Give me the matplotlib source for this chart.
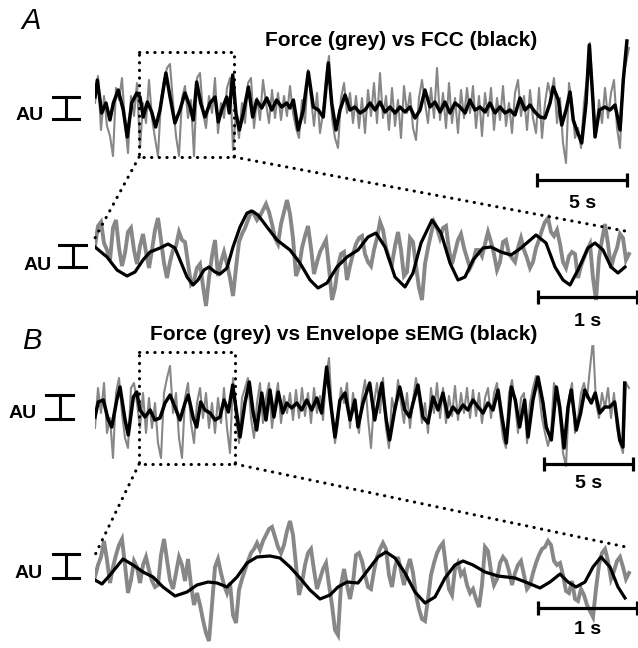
import numpy as np
import matplotlib.pyplot as plt
from matplotlib.patches import ConnectionPatch

plt.rcParams['font.family'] = ['Liberation Sans', 'DejaVu Sans']

W, H = 638, 648
GREY = '#878787'

# sampling step of the force traces (s)
dt_slow = 1 / 6
dt_fast = 0.03

# ---- panel A, 30 s record: force (grey) and FCC (black), AU
force_a = [5, 32, -22, 12, -18, -28, -48, 20, 8, 30, -15, -45, 12, -8, 25, -40, 5, -15, 28, -10,
           -30, -48, 8, 28, 40, 44, 5, -28, -48, 10, 22, -10, 8, -48, 30, 35, -5, -20, 12, -5,
           30, -25, 5, -10, 20, 30, -42, -5, -30, 5, -15, 25, 30, -20, 10, -12, 28, 5, -15, 18,
           -10, 15, -12, 12, -8, 22, -5, -20, -30, 8, -15, 38, 10, -18, 15, -25, -5, 30, 52, -10,
           -30, -40, 10, 25, -5, 15, -15, 12, -20, 10, -25, 18, -8, 25, -15, 35, -10, 12, -22, 20,
           -18, 8, -30, 22, -5, 15, -20, -32, 10, 28, 5, -15, 20, -10, 40, -12, 15, -20, 25, -15,
           10, -25, 18, -10, 20, -5, 22, -20, 12, -28, 15, -8, 20, -22, 10, -12, 22, -18, 5, -25,
           15, 28, -8, 12, -22, 18, -10, -25, 20, -30, 5, 25, 12, 30, -15, 10, -35, -55, 25, 5,
           -30, -20, -40, 5, 30, 65, 10, -25, 8, -15, 20, -10, 15, 28, -20, -40, 30, 45, 60]
fcc_t = [0.00, 0.13, 0.37, 0.61, 0.83, 1.02, 1.29, 1.57, 1.79, 2.04, 2.32, 2.50, 2.68, 2.91, 3.15,
         3.37, 3.61, 3.94, 4.17, 4.44, 4.72, 5.00, 5.28, 5.46, 5.65, 5.87, 6.11, 6.39, 6.67, 6.85,
         7.04, 7.32, 7.46, 7.65, 7.83, 8.02, 8.24, 8.52, 8.76, 8.98, 9.26, 9.54, 9.82, 10.09, 10.37,
         10.65, 10.83, 11.02, 11.29, 11.57, 11.85, 12.13, 12.41, 12.68, 12.96, 13.15, 13.39, 13.61,
         13.89, 14.17, 14.44, 14.72, 15.00, 15.28, 15.56, 15.83, 16.11, 16.39, 16.67, 16.94, 17.22,
         17.50, 17.78, 18.06, 18.33, 18.61, 18.89, 19.17, 19.44, 19.72, 20.00, 20.28, 20.56, 20.83,
         21.11, 21.39, 21.67, 21.94, 22.22, 22.50, 22.78, 23.06, 23.33, 23.61, 23.89, 24.17, 24.44,
         24.72, 25.00, 25.28, 25.46, 25.74, 25.93, 26.17, 26.39, 26.57, 26.76, 27.04, 27.28, 27.46,
         27.65, 27.78, 28.02, 28.33, 28.61, 28.89, 29.17, 29.35, 29.55]
fcc_v = [11, 28, -5, 5, -12, 5, 18, -2, -29, 5, 15, 11, -9, 6, -4,
         -19, -2, 35, 11, -15, -2, 15, 1, -12, 26, 5, -9, 5, 11, -14,
         -2, 11, -5, 33, -5, -22, -5, 21, -9, 8, 0, 10, -2, 8, 1,
         5, 0, 8, -22, -2, 36, 1, -2, -9, 45, 5, -22, -2,
         13, -2, 1, -5, -2, 5, -2, 6, -4, 1, -5, 1, -4,
         1, -10, -2, 18, 1, 6, -4, 6, -5, 5, 1, -5, 8,
         -2, 1, -4, 5, -5, 1, -5, -2, -7, 10, -2, 3, -4,
         -9, -10, 5, 21, 8, -17, -2, 16, -12, -22, -35, 5, 63,
         11, -29, -2, 1, -2, 3, -22, 28, 67]

# ---- panel A, expanded 5 s
force_a_zoom = [12, 32, 36, 15, 8, -2, 30, 38, 10, -8, 5, 26, 30, 8, -6, 12, 24, 6, -10, 8,
                28, 40, 18, -5, -20, -4, 8, 12, 26, 18, 16, -5, -26, -22, -10, -6, -28, -48, -20, 2,
                18, -18, -4, 6, -6, -20, -38, -10, 16, 24, 30, 38, 46, 44, 38, 42, 48, 54, 46, 34,
                20, 14, 34, 46, 58, 44, 20, -18, -10, 10, 22, 32, 10, -16, -4, 6, 12, 18, -10, -42,
                -30, -8, 4, 6, -22, -8, 4, 14, 20, 22, 4, -4, -8, 8, 20, 36, 28, 10, 0, -6,
                12, 26, 8, -18, -14, 20, 16, -8, -30, -42, -6, 10, 24, 36, 30, 20, 30, 32, 8, -6,
                6, 18, 24, 10, 0, -10, -4, 8, 8, 2, 14, 26, 16, 4, -12, -4, 16, 18, 4, 0,
                -4, 10, 20, 8, 0, -10, -4, 10, 18, 28, 36, 40, 26, 22, 28, 14, -4, -10, 2, 6,
                4, -20, -8, 0, 8, 14, -20, -42, 0, 18, 34, 14, -10, 2, 10, 24, 20, -2, 4]
fcc_zoom_t = [0.00, 0.12, 0.22, 0.32, 0.40, 0.48, 0.55, 0.65, 0.73, 0.80, 0.85, 0.92, 0.98, 1.03,
              1.09, 1.14, 1.20, 1.25, 1.32, 1.38, 1.45, 1.52, 1.57, 1.63, 1.72, 1.82, 1.95, 2.05,
              2.15, 2.23, 2.32, 2.42, 2.52, 2.63, 2.73, 2.81, 2.90, 3.00, 3.10, 3.18, 3.26, 3.37,
              3.46, 3.55, 3.63, 3.70, 3.78, 3.88, 3.96, 4.06, 4.16, 4.26, 4.41, 4.51, 4.60, 4.68,
              4.75, 4.83, 4.93, 5.00, 5.08, 5.16, 5.23, 5.30]
fcc_zoom_v = [11, 1, -12, -18, -14, -2, 6, 10, 14, 10, -2, -19, -27, -22,
              -12, -9, -14, -16, -10, 11, 31, 45, 47, 43, 31, 18, 8, -5,
              -22, -30, -25, -9, 1, 8, 21, 25, 11, -19, -29, -15, 15, 38,
              25, -5, -22, -19, -2, 10, 11, 6, 3, 10, 23, 15, -9, -22,
              -27, -12, 10, 15, 8, -9, -15, -9]

# ---- panel B, 30 s record: force (grey) and sEMG envelope (black)
force_b = [-20, 20, -5, 25, -25, -10, -50, 15, 30, -5, -30, -40, 20, 25, 5, -20, 15, -25, 10, -20,
           5, -35, -50, 15, 30, 42, -5, 15, -30, -50, 10, 25, -15, -35, 5, 20, -10, 15, -20, 5,
           -25, 10, -15, 20, -20, -45, 30, -10, -35, 10, 20, 30, -10, -30, 5, 25, -15, 10, 25, -20,
           5, 25, -15, 12, -5, 15, -12, 18, -10, 20, -8, 15, -15, 20, -5, 12, -12, 30, 50, -5,
           -35, -15, 20, 5, 25, -20, 15, -5, -25, 10, 28, -10, -40, 5, 25, -5, 30, -20, -40, 10,
           -5, 28, 5, -15, 15, -20, 8, 30, 10, -15, 5, -25, 20, -5, 25, -10, 20, -15, 12, -8,
           22, -12, 15, -5, 20, -10, 18, -8, 15, -15, 10, 20, -10, 15, 25, -5, -30, -40, 15, 28,
           5, -25, 10, 15, -35, 5, 20, 32, 15, -10, -25, -38, -25, 25, 15, -10, -45, -58, 10, 25,
           -25, -10, 15, 25, 10, 40, 68, 5, -10, 15, 0, 20, -10, 15, -20, -35, -45, 25, 20]
emg_t = [0.00, 0.18, 0.46, 0.74, 0.93, 1.21, 1.39, 1.67, 1.85, 2.13, 2.32, 2.50, 2.78, 3.06, 3.33,
         3.61, 3.89, 4.17, 4.44, 4.72, 5.00, 5.18, 5.46, 5.65, 5.87, 6.11, 6.39, 6.67, 6.94, 7.17,
         7.41, 7.65, 7.87, 8.06, 8.33, 8.57, 8.79, 8.98, 9.26, 9.50, 9.72, 9.94, 10.18, 10.43, 10.65,
         10.93, 11.21, 11.48, 11.76, 12.04, 12.32, 12.59, 12.87, 13.09, 13.33, 13.61, 13.89, 14.17,
         14.44, 14.61, 14.89, 15.26, 15.54, 15.72, 15.94, 16.18, 16.37, 16.65, 16.93, 17.21, 17.48,
         17.67, 17.94, 18.22, 18.50, 18.78, 19.06, 19.33, 19.61, 19.89, 20.17, 20.44, 20.72, 21.00,
         21.28, 21.56, 21.83, 22.11, 22.39, 22.61, 22.85, 23.13, 23.35, 23.59, 23.87, 24.06, 24.33,
         24.61, 24.89, 25.07, 25.35, 25.63, 25.82, 26.06, 26.28, 26.46, 26.74, 26.98, 27.21, 27.39,
         27.57, 27.79, 28.04, 28.32, 28.59, 28.87, 29.15, 29.33, 29.43]
emg_v = [-9, 6, 8, -12, -19, 8, 21, -12, -27, 11, 16, -2, -9, -2, -12,
         -10, 5, 13, 1, -12, 5, 13, -10, -19, 6, -2, -5, -12, -9, 8,
         -4, 23, -5, -29, 5, 26, -5, -22, 15, -12, 18, -9, 16, -5, 5,
         0, 5, -2, 8, -2, 10, -5, 41, 5, -29, 8, 15, -12,
         8, -19, 5, 25, -12, 5, 25, -12, -32, -2, 21, -2, -9,
         5, 23, -9, -15, 11, -2, 15, -9, 1, -5, 3, -2, 8,
         1, -5, 5, -2, 18, -9, -35, 21, 8, -19, 8, -29, 8,
         31, 5, -19, -32, 21, 1, -40, 1, 18, -22, -5, 18, 11,
         5, 15, -5, 1, 1, 6, -32, -39, 25]

# ---- panel B, expanded 5 s
force_b_zoom = [-2, 10, 18, 34, 15, -8, 8, 20, 30, 36, 10, -18, -5, 14, 8, -8, 10, 18, 5, -6,
                -12, -10, 20, 36, 15, -5, -14, 2, 18, 10, -6, 16, -10, -30, -18, -30, -45, -58, -66, -30,
                8, 16, 2, -10, -18, -8, -40, -48, -15, -4, 5, 14, 22, 26, 32, 25, 34, 40, 46, 48,
                38, 28, 22, 30, 44, 54, 40, 10, -20, -8, 10, 22, 26, 5, -14, -4, 6, 12, -10, -30,
                -55, -60, -10, 6, -10, -24, -8, 20, 22, 14, 0, -12, -14, 4, 18, 26, 32, 26, 0, -12,
                8, 18, 4, -10, 6, 16, 2, -20, -34, -44, -46, -24, 0, 12, 22, 28, 32, 8, -14, -20,
                6, 12, 0, 4, -10, -18, -14, -24, -32, -10, 28, 24, 4, -10, -4, 12, 18, 14, 4, -10,
                2, 10, 14, 0, -14, -10, 2, 12, 20, 26, 28, 34, 30, 14, 10, 12, 0, -16, -18, -6,
                -24, -26, -14, -20, -30, -36, -42, -14, 10, 22, 26, 14, -4, 4, 14, 18, 8, -4, 2]
emg_zoom_t = [0.00, 0.07, 0.15, 0.28, 0.38, 0.48, 0.58, 0.68, 0.80, 0.92, 1.02, 1.13, 1.22, 1.32,
              1.42, 1.52, 1.62, 1.75, 1.85, 1.95, 2.05, 2.15, 2.25, 2.35, 2.43, 2.52, 2.63, 2.73,
              2.83, 2.91, 3.00, 3.10, 3.20, 3.30, 3.40, 3.50, 3.60, 3.68, 3.78, 3.90, 4.03, 4.20,
              4.33, 4.45, 4.55, 4.65, 4.73, 4.81, 4.90, 4.98, 5.06, 5.15, 5.23, 5.30]
emg_zoom_v = [-5, -9, 0, 16, 10, 3, -2, -12, -21, -17, -10, -7, -8, -12,
              -2, 12, 18, 19, 17, 8, -3, -15, -24, -20, -12, -7, -8, 5,
              18, 23, 17, 2, -17, -28, -22, -3, 10, 14, 10, 3, -1, -3,
              -8, -13, -7, 1, -7, -12, -7, 8, 18, 8, -12, -23]

fig = plt.figure(figsize=(W / 100, H / 100), dpi=100)

# overlay in pixel units for labels and AU bars
ov = fig.add_axes([0, 0, 1, 1])
ov.set_xlim(0, W)
ov.set_ylim(H, 0)
ov.axis('off')


def trace_axes(top, bottom, base, span):
    ax = fig.add_axes([95 / W, 1 - bottom / H, 537 / W, (bottom - top) / H])
    ax.set_xlim(0, span)
    ax.set_ylim(base - bottom, base - top)
    ax.axis('off')
    return ax


def scale_bar(ax, t0, t1, v, vtxt, label):
    ax.plot([t0, t1], [v, v], color='k', lw=2.3, clip_on=False, solid_capstyle='butt')
    ax.plot([t0, t1], [v, v], ls='none', marker='|', ms=10, mew=2.3, color='k', clip_on=False)
    ax.text((t0 + t1) / 2, vtxt, label, ha='center', va='center',
            fontsize=14, fontweight='bold')


def au_bar(x0, x1, y0, y1, xt, yt):
    xm = (x0 + x1) / 2
    ov.plot([xm, xm], [y0, y1], color='k', lw=2.2)
    ov.plot([x0, x1], [y0, y0], color='k', lw=2.2)
    ov.plot([x0, x1], [y1, y1], color='k', lw=2.2)
    ov.text(xt, yt, 'AU', ha='right', va='center', fontsize=14, fontweight='bold')


def dotted_box(ax, t0, t1, v0, v1):
    ax.plot([t0, t1, t1, t0, t0], [v0, v0, v1, v1, v0], color='k', lw=2.2,
            ls=(0, (0.1, 2.4)), dash_capstyle='round', clip_on=False)


def connector(ax_a, xy_a, ax_b, xy_b):
    con = ConnectionPatch(xyA=xy_a, coordsA=ax_a.transData, xyB=xy_b, coordsB=ax_b.transData,
                          color='k', lw=2.2, ls=(0, (0.1, 2.4)), capstyle='round')
    fig.add_artist(con)


span_slow = 537 / 18
span_fast = 5.37

# A, full record
ax1 = trace_axes(30, 215, 108, span_slow)
ax1.plot(np.arange(len(force_a)) * dt_slow, force_a, color=GREY, lw=1.5)
ax1.plot(fcc_t, fcc_v, color='k', lw=2.5, solid_joinstyle='round')
dotted_box(ax1, 2.45, 7.72, 56, -49)
scale_bar(ax1, 24.56, 29.56, -72, -96, '5 s')

# A, expanded
ax2 = trace_axes(195, 335, 258, span_fast)
ax2.plot(np.arange(len(force_a_zoom)) * dt_fast, force_a_zoom, color=GREY, lw=2.8,
         solid_joinstyle='miter')
ax2.plot(fcc_zoom_t, fcc_zoom_v, color='k', lw=2.3, solid_joinstyle='round')
scale_bar(ax2, 4.43, 5.42, -39, -64, '1 s')
connector(ax1, (2.45, -49), ax2, (0.0, 20))
connector(ax1, (7.72, -49), ax2, (5.30, 27))

# B, full record
ax3 = trace_axes(345, 495, 408, span_slow)
ax3.plot(np.arange(len(force_b)) * dt_slow, force_b, color=GREY, lw=1.5)
ax3.plot(emg_t, emg_v, color='k', lw=2.5, solid_joinstyle='round')
dotted_box(ax3, 2.45, 7.78, 56, -56)
scale_bar(ax3, 24.95, 29.9, -56, -76, '5 s')

# B, expanded
ax4 = trace_axes(500, 648, 575, span_fast)
ax4.plot(np.arange(len(force_b_zoom)) * dt_fast, force_b_zoom, color=GREY, lw=2.8,
         solid_joinstyle='miter')
ax4.plot(emg_zoom_t, emg_zoom_v, color='k', lw=2.3, solid_joinstyle='round')
scale_bar(ax4, 4.43, 5.42, -33, -55, '1 s')
connector(ax3, (2.45, -56), ax4, (0.0, 20))
connector(ax3, (7.78, -56), ax4, (5.31, 28))

# labels
ov.text(31, 21, 'A', ha='center', va='center', fontsize=21, fontstyle='italic')
ov.text(32, 341, 'B', ha='center', va='center', fontsize=21, fontstyle='italic')
ov.text(401, 40, 'Force (grey) vs FCC (black)', ha='center', va='center',
        fontsize=15, fontweight='bold')
ov.text(344, 334, 'Force (grey) vs Envelope sEMG (black)', ha='center', va='center',
        fontsize=15, fontweight='bold')

au_bar(53, 79, 97, 119, 44, 116)
au_bar(59, 86, 245, 267, 52, 265)
au_bar(46, 73, 395, 419, 37, 414)
au_bar(53, 79, 554, 578, 43, 573)

fig.savefig('out.png', dpi=100)
